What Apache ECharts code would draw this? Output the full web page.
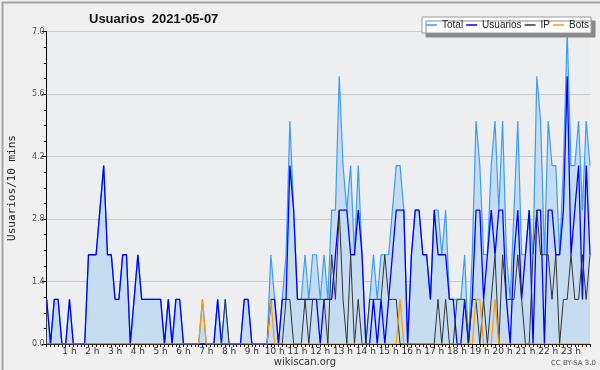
<!DOCTYPE html>
<html><head><meta charset="utf-8">
<script src="https://cdn.jsdelivr.net/npm/echarts@6/dist/echarts.min.js"></script>
<style>html,body{margin:0;padding:0;background:#f0f0f0}#c{width:600px;height:370px}</style>
</head><body><div id="c"></div>
<script>
// tick labels
const hourLabels = ['', '1 h', '2 h', '3 h', '4 h', '5 h', '6 h', '7 h', '8 h', '9 h', '10 h', '11 h',
  '12 h', '13 h', '14 h', '15 h', '16 h', '17 h', '18 h', '19 h', '20 h', '21 h', '22 h', '23 h'];
const seriesNames = ['Total', 'Usuarios', 'IP', 'Bots'];
// values per 10 minutes (144 points, 00:00 .. 23:50)
const total = [
  1,0,1,1,0,0,1,0,0,0,0,2,
  2,2,3,4,2,2,1,1,2,2,0,1,
  2,1,1,1,1,1,1,0,1,0,1,1,
  0,0,0,0,0,1,0,0,0,1,0,1,
  0,0,0,0,1,1,0,0,0,0,0,2,
  1,0,1,2,5,3,1,1,2,1,2,2,
  1,2,1,3,3,6,4,3,4,2,4,2,
  0,1,2,1,2,2,2,3,4,4,3,0,
  2,3,3,2,2,1,3,3,2,3,1,1,
  1,1,2,0,2,5,4,2,2,4,5,3,
  5,2,1,3,5,2,2,3,2,6,5,2,
  5,4,4,2,4,7,4,4,5,3,5,4];
const usuarios = [
  1,0,1,1,0,0,1,0,0,0,0,2,
  2,2,3,4,2,2,1,1,2,2,0,1,
  2,1,1,1,1,1,1,0,1,0,1,1,
  0,0,0,0,0,0,0,0,0,1,0,0,
  0,0,0,0,1,1,0,0,0,0,0,1,
  1,0,1,1,4,3,1,1,1,1,1,1,
  0,1,1,1,2,3,3,3,2,2,3,2,
  0,0,1,0,1,0,1,2,3,3,3,0,
  2,3,3,2,2,1,3,2,2,2,1,1,
  0,0,1,0,1,3,3,1,2,3,2,3,
  3,1,0,2,3,1,2,3,0,3,3,0,
  3,3,2,2,3,6,2,3,4,1,4,2];
const ip = [
  0,0,0,0,0,0,0,0,0,0,0,0,
  0,0,0,0,0,0,0,0,0,0,0,0,
  0,0,0,0,0,0,0,0,0,0,0,0,
  0,0,0,0,0,0,0,0,0,0,0,1,
  0,0,0,0,0,0,0,0,0,0,0,0,
  0,0,0,1,1,0,0,0,1,0,1,1,
  1,1,0,2,1,3,1,0,2,0,1,0,
  0,1,1,1,1,2,1,1,1,0,0,0,
  0,0,0,0,0,0,0,1,0,1,0,0,
  1,1,1,0,1,1,0,1,0,1,2,0,
  2,1,1,1,2,1,0,0,2,3,2,2,
  2,1,2,0,1,1,2,1,1,2,1,2];
const bots = [
  0,0,0,0,0,0,0,0,0,0,0,0,
  0,0,0,0,0,0,0,0,0,0,0,0,
  0,0,0,0,0,0,0,0,0,0,0,0,
  0,0,0,0,0,1,0,0,0,0,0,0,
  0,0,0,0,0,0,0,0,0,0,0,1,
  0,0,0,0,0,0,0,0,0,0,0,0,
  0,0,0,0,0,0,0,0,0,0,0,0,
  0,0,0,0,0,0,0,0,0,1,0,0,
  0,0,0,0,0,0,0,0,0,0,0,0,
  0,0,0,0,0,1,1,0,0,0,1,0,
  0,0,0,0,0,0,0,0,0,0,0,0,
  0,0,0,0,0,0,0,0,0,0,0,0];

const pairs = arr => arr.map((v, i) => [i, v]);
const chart = echarts.init(document.getElementById('c'), null, {renderer: 'canvas'});
const FONT = 'DejaVu Sans';
chart.setOption({
  animation: false,
  backgroundColor: '#f0f0f0',
  title: {
    text: 'Usuarios  2021-05-07', left: 84, top: 8,
    textStyle: {fontFamily: 'Liberation Sans', fontWeight: 'bold', fontSize: 13, color: '#111'}
  },
  legend: {
    data: seriesNames.map(n => ({name: n, icon: 'rect'})),
    left: 422, top: 17, itemWidth: 11, itemHeight: 1.5, itemGap: 3,
    padding: [2, 2, 2, 4],
    backgroundColor: '#ffffff', borderColor: '#999', borderWidth: 1,
    shadowColor: '#8a8a8a', shadowOffsetX: 4, shadowOffsetY: 4, shadowBlur: 0,
    textStyle: {fontFamily: 'Liberation Sans', fontSize: 10, lineHeight: 12, color: '#222'}
  },
  grid: {left: 46.7, right: 10, top: 31.7, bottom: 26, show: true, backgroundColor: '#eceef0', borderWidth: 0},
  xAxis: {
    type: 'value', min: 0, max: 143, interval: 6,
    axisLine: {show: true, lineStyle: {color: '#000', width: 1}},
    axisTick: {show: true, length: 3, lineStyle: {color: '#000'}},
    minorTick: {show: true, splitNumber: 6, length: 3, lineStyle: {color: '#000'}},
    splitLine: {show: false},
    axisLabel: {
      margin: 3, fontFamily: FONT, fontSize: 9, color: '#333',
      formatter: v => (v % 6 === 0 ? hourLabels[v / 6] : '')
    }
  },
  yAxis: {
    type: 'value', min: 0, max: 7, interval: 1.4,
    axisLine: {show: true, lineStyle: {color: '#000', width: 1}},
    axisTick: {show: true, length: 5, lineStyle: {color: '#000'}},
    minorTick: {show: true, splitNumber: 4, length: 3, lineStyle: {color: '#000'}},
    splitLine: {show: true, lineStyle: {color: '#cccccc', width: 1}},
    axisLabel: {margin: 2, fontFamily: FONT, fontSize: 8, color: '#555', formatter: v => v.toFixed(1)}
  },
  graphic: [
    {type: 'rect', left: 0, top: 0, shape: {x: 0, y: 0, width: 599, height: 369},
     style: {fill: 'none', stroke: '#a5a5a5', lineWidth: 2}, silent: true, z: 100},
    {type: 'text', x: 12, y: 188, rotation: Math.PI / 2,
     style: {text: 'Usuarios/10 mins', font: '11px "DejaVu Sans Mono"', fill: '#222', textAlign: 'center', textVerticalAlign: 'middle'}},
    {type: 'text', x: 305, y: 362,
     style: {text: 'wikiscan.org', font: '10px "DejaVu Sans"', fill: '#333', textAlign: 'center', textVerticalAlign: 'middle'}},
    {type: 'text', x: 596, y: 363,
     style: {text: 'CC BY-SA 3.0', font: '7px "DejaVu Sans"', fill: '#555', textAlign: 'right', textVerticalAlign: 'middle'}}
  ],
  series: [
    {name: 'Total', type: 'line', data: pairs(total), symbol: 'none',
     lineStyle: {color: '#3d9cf5', width: 1.2}, itemStyle: {color: '#3d9cf5'},
     areaStyle: {color: '#c6ddf1', opacity: 1}, z: 2},
    {name: 'Usuarios', type: 'line', data: pairs(usuarios), symbol: 'none',
     lineStyle: {color: '#0000ff', width: 1.3}, itemStyle: {color: '#0000ff'}, z: 3},
    {name: 'IP', type: 'line', data: pairs(ip), symbol: 'none',
     lineStyle: {color: '#333333', width: 1}, itemStyle: {color: '#333333'}, z: 4},
    {name: 'Bots', type: 'line', data: pairs(bots), symbol: 'none',
     lineStyle: {color: '#ff9900', width: 1.2}, itemStyle: {color: '#ff9900'}, z: 5}
  ]
});
</script></body></html>
